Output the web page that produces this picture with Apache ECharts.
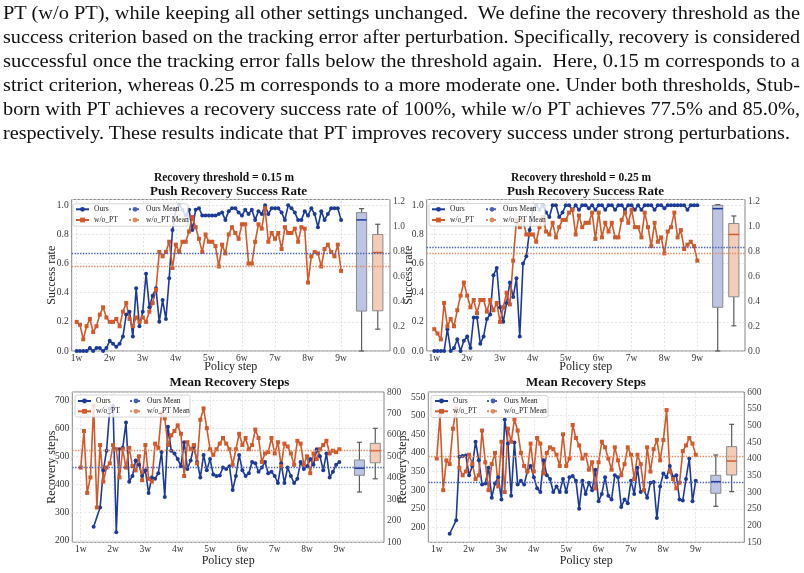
<!DOCTYPE html>
<html><head><meta charset="utf-8">
<script src="https://cdn.jsdelivr.net/npm/echarts@6/dist/echarts.min.js"></script>
<style>
html,body{margin:0;padding:0;background:#fff;}
#wrap{position:relative;width:804px;height:573px;overflow:hidden;background:#fff;}
#chart{position:absolute;left:0;top:0;width:804px;height:573px;}
#para{position:absolute;left:3px;top:1.3px;width:800px;font-family:"Liberation Serif","Times New Roman",serif;font-size:19px;color:#111;line-height:24px;}
#para .ln{height:24px;white-space:nowrap;}
#para .ln span{display:inline-block;transform-origin:0 50%;}
</style></head>
<body>
<div id="wrap">
<div id="chart"></div>
<div id="para">
<div class="ln"><span>PT (w/o PT), while keeping all other settings unchanged.&nbsp; We define the recovery threshold as the</span></div>
<div class="ln"><span>success criterion based on the tracking error after perturbation. Specifically, recovery is considered</span></div>
<div class="ln"><span>successful once the tracking error falls below the threshold again.&nbsp; Here, 0.15 m corresponds to a</span></div>
<div class="ln"><span>strict criterion, whereas 0.25 m corresponds to a more moderate one. Under both thresholds, Stub-</span></div>
<div class="ln"><span>born with PT achieves a recovery success rate of 100%, while w/o PT achieves 77.5% and 85.0%,</span></div>
<div class="ln"><span>respectively. These results indicate that PT improves recovery success under strong perturbations.</span></div>
</div>
</div>
<script>
// ---------------- data ----------------
const xTicks = ['1w','2w','3w','4w','5w','6w','7w','8w','9w'];

const sr015Ours = [0,0,0,0,0.02,0,0.02,0.02,0,0.02,
 0.07,0.05,0.03,0.05,0.1,0.25,0.27,0.1,0.43,0.17,
 0.27,0.53,0.3,0.38,0.43,0.2,0.35,0.22,0.5,0.83,
 0.97,1.0,0.97,0.93,0.97,0.83,0.97,0.98,0.93,
 0.93,0.93,0.93,0.93,0.94,0.95,0.90,0.96,0.98,0.98,0.95,0.93,0.97,0.94,0.97,0.90,0.96,0.94,1.0,0.94,0.98,
 0.98,0.98,0.95,0.90,1.0,0.98,0.95,0.90,0.90,0.96,0.93,0.98,0.94,0.85,0.96,0.90,0.94,0.98,0.98,0.98,0.90];
const sr015Wopt = [0.2,0.18,0.08,0.17,0.22,0.13,0.17,0.25,0.3,0.23,
 0.2,0.2,0.22,0.17,0.27,0.33,0.22,0.17,0.23,0.2,
 0.23,0.2,0.27,0.33,0.42,0.68,0.65,0.68,0.75,0.57,
 0.73,0.68,0.75,0.75,0.82,0.92,0.85,0.77,0.68,0.8,
 0.75,0.75,0.72,0.58,0.73,0.67,0.8,0.85,0.81,0.77,
 0.87,0.87,0.6,0.6,0.75,0.87,0.84,0.98,0.75,0.81,
 0.77,0.81,0.7,0.85,0.81,0.81,0.84,0.75,0.85,0.84,
 0.47,0.65,0.68,0.67,0.58,0.7,0.73,0.68,0.65,0.73,0.55];

const sr025Ours = [0,0,0,0,0.15,0,0.02,0.08,0,0.07,
 0.1,0.02,0.23,0.23,0.05,0.1,0.22,0.25,0.52,0.57,
 0.3,0.2,0.33,0.47,0.37,0.5,0.1,0.6,0.65,0.83,
 0.97,1.0,0.97,1.0,0.95,0.92,1.0,1.0,0.92,0.95,
 1.0,1.0,0.97,1.0,0.97,1.0,1.0,0.98,1.0,0.97,
 1.0,1.0,0.97,1.0,1.0,0.97,1.0,1.0,0.97,1.0,
 1.0,0.97,1.0,0.97,1.0,1.0,1.0,0.97,1.0,1.0,
 0.98,1.0,1.0,1.0,1.0,1.0,1.0,0.97,1.0,1.0,1.0];
const sr025Wopt = [0.15,0.12,0.08,0.33,0.17,0.22,0.17,0.28,0.38,0.47,
 0.38,0.3,0.35,0.26,0.35,0.35,0.27,0.35,0.28,0.33,
 0.2,0.3,0.4,0.32,0.62,0.9,0.85,0.9,0.8,0.8,
 0.8,0.75,0.85,0.92,0.82,0.8,0.88,0.78,0.85,0.9,
 0.9,0.95,0.97,0.8,0.93,0.85,0.88,0.88,0.95,0.77,
 0.95,0.78,0.88,0.82,0.88,0.78,0.78,0.9,0.95,0.88,
 0.97,0.85,0.85,0.78,0.95,0.85,0.72,0.88,0.75,0.78,
 0.67,0.82,0.85,0.95,0.78,0.83,0.7,0.73,0.75,0.72,0.62];

const steps015Ours = [null,null,null,null,250,null,318,450,520,670,
 680,230,525,530,620,410,430,485,470,430,
 450,370,425,420,440,515,355,605,520,510,
 490,465,550,455,485,535,480,425,505,450,
 490,435,430,432,460,455,465,380,430,505,
 450,430,440,480,475,445,460,480,440,445,
 430,405,475,405,460,430,405,420,480,455,
 465,490,470,525,500,450,510,425,445,470,480];
const steps015Wopt = [460,590,370,425,680,318,540,410,460,475,
 540,525,425,525,460,530,465,450,500,415,
 540,420,410,545,530,655,635,540,575,590,
 610,580,430,550,525,540,475,630,670,600,
 525,505,525,545,565,545,525,470,525,580,
 540,565,525,540,595,565,480,510,515,565,
 510,550,465,545,535,510,470,555,545,470,
 500,440,510,490,525,540,555,510,520,515,525];

const steps025Ours = [null,null,null,null,183,null,219,390,392,393,
 340,365,430,380,315,318,360,280,318,335,
 275,490,425,285,428,315,325,315,350,365,
 335,305,295,380,340,330,295,310,295,330,
 295,335,338,325,250,325,290,320,300,355,
 270,290,335,285,275,340,335,255,275,265,
 325,290,360,295,300,280,320,322,225,310,
 345,335,365,335,340,275,272,330,385,270,325];
const steps025Wopt = [385,500,300,380,370,465,520,360,340,350,
 395,370,330,340,460,375,300,370,400,310,
 430,295,465,430,490,460,400,365,350,425,
 350,440,425,345,400,415,410,395,365,450,
 365,385,475,440,420,385,395,355,375,305,
 375,430,415,385,355,415,380,340,370,415,
 395,330,395,370,300,415,350,410,435,380,
 435,515,350,330,305,320,405,420,440,425,395];

// box statistics [min, q1, median, q3, max]
const box015Ours = [0, 0.274, 0.90, 0.95, 0.977];
const box015Wopt = [0.15, 0.276, 0.676, 0.80, 0.87];
const box025Ours = [0, 0.30, 0.977, 1.0, 1.005];
const box025Wopt = [0.173, 0.372, 0.80, 0.875, 0.927];
const boxSteps015Ours = [373, 432.5, 457.4, 486.9, 549.8];
const boxSteps015Wopt = [420, 477, 520, 546, 599.5];
const boxSteps025Ours = [256.7, 291.6, 322.9, 339.9, 394.4];
const boxSteps025Wopt = [296, 340.8, 378.3, 416.8, 476.7];

// ---------------- style / layout ----------------
const SERIF = "'Liberation Serif','Times New Roman',serif";
const BLUE = '#1c3a97', ORANGE = '#d2592a';
const BLUE_MEAN = '#4a60b4', ORANGE_MEAN = '#e08a60';
const BOX_FILL = ['#bcc6e4', '#f4cdb9'];
const BOX_EDGE = '#8a8a8a', WHISKER = '#5a5a5a';
const BOX_POS = [86.2, 91.1], BOX_W = 3.1;

const panels = [
 {ours: sr015Ours, wopt: sr015Wopt, bo: box015Ours, bw: box015Wopt,
  grid:{left:71.7, top:199.5, width:318.3, height:151.5}, x:[-1.5, 94.8],
  yL:{min:0, max:1.04, step:0.2, dec:1}, yR:{min:0, max:1.213, step:0.2, dec:1},
  yName:'Success rate', leftName:true, rightName:true, xNameGap:10,
  legA:75, legB:128, legTop:204.8, legGap:1.7, frame:[73,203.8,115,22.4]},
 {ours: sr025Ours, wopt: sr025Wopt, bo: box025Ours, bw: box025Wopt,
  grid:{left:426.7, top:199.5, width:318.3, height:151.5}, x:[-2.3, 94.5],
  yL:{min:0, max:1.04, step:0.2, dec:1}, yR:{min:0, max:1.213, step:0.2, dec:1},
  yName:'Success rate', leftName:false, rightName:false, xNameGap:10,
  legA:431, legB:485, legTop:204.8, legGap:1.7, frame:[429,203.5,116,22.6]},
 {ours: steps015Ours, wopt: steps015Wopt, bo: boxSteps015Ours, bw: boxSteps015Wopt,
  grid:{left:72.3, top:392, width:311.7, height:150.3}, x:[-2.6, 93.8],
  yL:{min:194.4, max:728.5, step:100, dec:0}, yR:{min:100, max:800, step:100, dec:0},
  yName:'Recovery steps', leftName:true, rightName:true, xNameGap:12.4,
  legA:77, legB:129, legTop:396.5, legGap:1.3, frame:[75,395,115,22]},
 {ours: steps025Ours, wopt: steps025Wopt, bo: boxSteps025Ours, bw: boxSteps025Wopt,
  grid:{left:428.3, top:392, width:316, height:150.3}, x:[-2.6, 95.0],
  yL:{min:160.1, max:563.5, step:50, dec:0}, yR:{min:150, max:600, step:50, dec:0},
  yName:'Recovery steps', leftName:false, rightName:false, xNameGap:12.4,
  legA:434, legB:486, legTop:396.5, legGap:1.3, frame:[431,395.5,117,22]}
];

function toPts(arr){ return arr.map((v,i)=>[i, v==null ? '-' : v]); }
function mean(arr){ const a = arr.filter(v=>v!=null); return a.reduce((s,v)=>s+v,0)/a.length; }
function fmt(step, dec){
  return function(v){ const k = Math.round(v/step); if (Math.abs(v-k*step) > step*1e-3) return ''; return (k*step).toFixed(dec); };
}
function boxItem(params, api){
  const k = api.value(0);
  const xc = BOX_POS[k];
  const c = api.coord([xc, api.value(3)]);
  const cx = c[0];
  const yMin = api.coord([xc, api.value(1)])[1];
  const yQ1 = api.coord([xc, api.value(2)])[1];
  const yMed = c[1];
  const yQ3 = api.coord([xc, api.value(4)])[1];
  const yMax = api.coord([xc, api.value(5)])[1];
  const w = api.size([BOX_W, 0])[0];
  const cap = w*0.5;
  const ws = {stroke:WHISKER, lineWidth:1.2};
  return {type:'group', children:[
    {type:'line', shape:{x1:cx,y1:yQ1,x2:cx,y2:yMin}, style:ws},
    {type:'line', shape:{x1:cx,y1:yQ3,x2:cx,y2:yMax}, style:ws},
    {type:'line', shape:{x1:cx-cap/2,y1:yMin,x2:cx+cap/2,y2:yMin}, style:ws},
    {type:'line', shape:{x1:cx-cap/2,y1:yMax,x2:cx+cap/2,y2:yMax}, style:ws},
    {type:'rect', shape:{x:cx-w/2,y:yQ3,width:w,height:yQ1-yQ3}, style:{fill:BOX_FILL[k], stroke:BOX_EDGE, lineWidth:1}},
    {type:'line', shape:{x1:cx-w/2,y1:yMed,x2:cx+w/2,y2:yMed}, style:{stroke:k===0?BLUE:ORANGE, lineWidth:1.5}}
  ]};
}

const grid=[], xAxis=[], yAxis=[], series=[], legend=[], graphic=[];
const nameStyle = {fontFamily:SERIF, fontSize:12, color:'#222'};
const labStyle = {fontFamily:SERIF, fontSize:9.5, color:'#333'};

panels.forEach((p,k)=>{
  grid.push(Object.assign({show:true, borderColor:'#666', borderWidth:0.8, backgroundColor:'transparent', containLabel:false, outerBoundsMode:'none'}, p.grid));
  xAxis.push({type:'value', gridIndex:k, min:p.x[0], max:p.x[1], minInterval:10, maxInterval:10, splitNumber:10,
    axisLine:{show:false}, axisTick:{show:false}, splitLine:{show:false},
    axisLabel:Object.assign({margin:2, formatter:v=>(v>=0 && v<=80 && Math.abs(v/10-Math.round(v/10))<1e-6) ? xTicks[Math.round(v/10)] : ''}, labStyle),
    name:'Policy step', nameLocation:'middle', nameGap:p.xNameGap, nameMoveOverlap:false, nameTextStyle:nameStyle});
  yAxis.push({type:'value', gridIndex:k, position:'left', min:p.yL.min, max:p.yL.max, minInterval:p.yL.step, maxInterval:p.yL.step, splitNumber:8,
    axisLine:{show:false}, axisTick:{show:false},
    splitLine:{show:true, lineStyle:{color:'#dcdcdc', type:[2,2], width:0.8}},
    axisLabel:Object.assign({margin:3, formatter:fmt(p.yL.step,p.yL.dec)}, labStyle),
    name:p.leftName ? p.yName : '', nameLocation:'middle', nameRotate:90, nameGap:14, nameMoveOverlap:false, nameTextStyle:nameStyle});
  yAxis.push({type:'value', gridIndex:k, position:'right', min:p.yR.min, max:p.yR.max, minInterval:p.yR.step, maxInterval:p.yR.step, splitNumber:8,
    axisLine:{show:false}, axisTick:{show:false}, splitLine:{show:false},
    axisLabel:Object.assign({margin:3, formatter:fmt(p.yR.step,p.yR.dec)}, labStyle, {color:'#444'}),
    name:p.rightName ? p.yName : '', nameLocation:'middle', nameRotate:90, nameGap:12.5, nameMoveOverlap:false, nameTextStyle:nameStyle});
  const yl = 2*k;
  // vertical grid lines at policy-step ticks
  series.push({type:'line', name:'_grid'+k, xAxisIndex:k, yAxisIndex:yl, data:[], silent:true, z:0,
    markLine:{silent:true, z:0, symbol:['none','none'], label:{show:false}, animation:false,
      lineStyle:{color:'#dcdcdc', type:[2,2], width:0.8},
      data:xTicks.map((t,j)=>({xAxis:j*10}))}});
  series.push({type:'custom', name:'_box'+k, xAxisIndex:k, yAxisIndex:yl, z:1, clip:false, silent:true,
    renderItem:boxItem, data:[[0].concat(p.bo), [1].concat(p.bw)]});
  series.push({type:'line', name:'Ours', xAxisIndex:k, yAxisIndex:yl, data:toPts(p.ours), connectNulls:true,
    symbol:'circle', symbolSize:4, lineStyle:{color:BLUE, width:1.6}, itemStyle:{color:BLUE}, z:3});
  series.push({type:'line', name:'w/o_PT', xAxisIndex:k, yAxisIndex:yl, data:toPts(p.wopt),
    symbol:'rect', symbolSize:4, lineStyle:{color:ORANGE, width:1.6}, itemStyle:{color:ORANGE}, z:3});
  series.push({type:'line', name:'Ours Mean', xAxisIndex:k, yAxisIndex:yl, data:[], symbol:'none',
    lineStyle:{color:BLUE_MEAN, type:'dotted', width:1.4}, itemStyle:{color:BLUE_MEAN},
    markLine:{silent:true, symbol:['none','none'], label:{show:false}, animation:false,
      lineStyle:{color:BLUE_MEAN, type:'dotted', width:1.4}, data:[{yAxis:mean(p.ours)}]}});
  series.push({type:'line', name:'w/o_PT Mean', xAxisIndex:k, yAxisIndex:yl, data:[], symbol:'none',
    lineStyle:{color:ORANGE_MEAN, type:'dotted', width:1.4}, itemStyle:{color:ORANGE_MEAN},
    markLine:{silent:true, symbol:['none','none'], label:{show:false}, animation:false,
      lineStyle:{color:ORANGE_MEAN, type:'dotted', width:1.4}, data:[{yAxis:mean(p.wopt)}]}});
  const lt = {fontFamily:SERIF, fontSize:7.5, color:'#222', lineHeight:9};
  legend.push({orient:'vertical', left:p.legA, top:p.legTop, padding:0, itemGap:p.legGap, itemWidth:13, itemHeight:6,
    selectedMode:false, data:['Ours','w/o_PT'], textStyle:lt, z:10});
  legend.push({orient:'vertical', left:p.legB, top:p.legTop, padding:0, itemGap:p.legGap, itemWidth:12, itemHeight:6,
    selectedMode:false, data:['Ours Mean','w/o_PT Mean'], textStyle:lt, z:10});
  graphic.push({type:'rect', z:5, silent:true, shape:{x:p.frame[0], y:p.frame[1], width:p.frame[2], height:p.frame[3], r:2},
    style:{fill:'rgba(255,255,255,0.82)', stroke:'#cccccc', lineWidth:0.8}});
});

const titles = [
  {t:'Recovery threshold = 0.15 m', x:224, y:177.7, s:11.5},
  {t:'Push Recovery Success Rate', x:228.5, y:191.7, s:13},
  {t:'Recovery threshold = 0.25 m', x:581, y:177.7, s:11.5},
  {t:'Push Recovery Success Rate', x:585.5, y:191.7, s:13},
  {t:'Mean Recovery Steps', x:229.5, y:382.7, s:13},
  {t:'Mean Recovery Steps', x:586, y:382.3, s:13}
];
titles.forEach(o=>graphic.push({type:'text', x:o.x, y:o.y, z:6, silent:true,
  style:{text:o.t, fontFamily:SERIF, fontWeight:'bold', fontSize:o.s, fill:'#111', align:'center', verticalAlign:'middle'}}));

const chart = echarts.init(document.getElementById('chart'), null, {renderer:'canvas'});
chart.setOption({animation:false, backgroundColor:'#fff', textStyle:{fontFamily:SERIF},
  grid, xAxis, yAxis, series, legend, graphic, tooltip:{show:false}});

// fit each paragraph line to its measured width
const targets = [797,797,797,797,797,787];
document.querySelectorAll('#para .ln span').forEach((s,i)=>{
  const w = s.getBoundingClientRect().width;
  s.style.transform = 'scaleX(' + (targets[i]/w) + ')';
});
</script>
</body></html>
